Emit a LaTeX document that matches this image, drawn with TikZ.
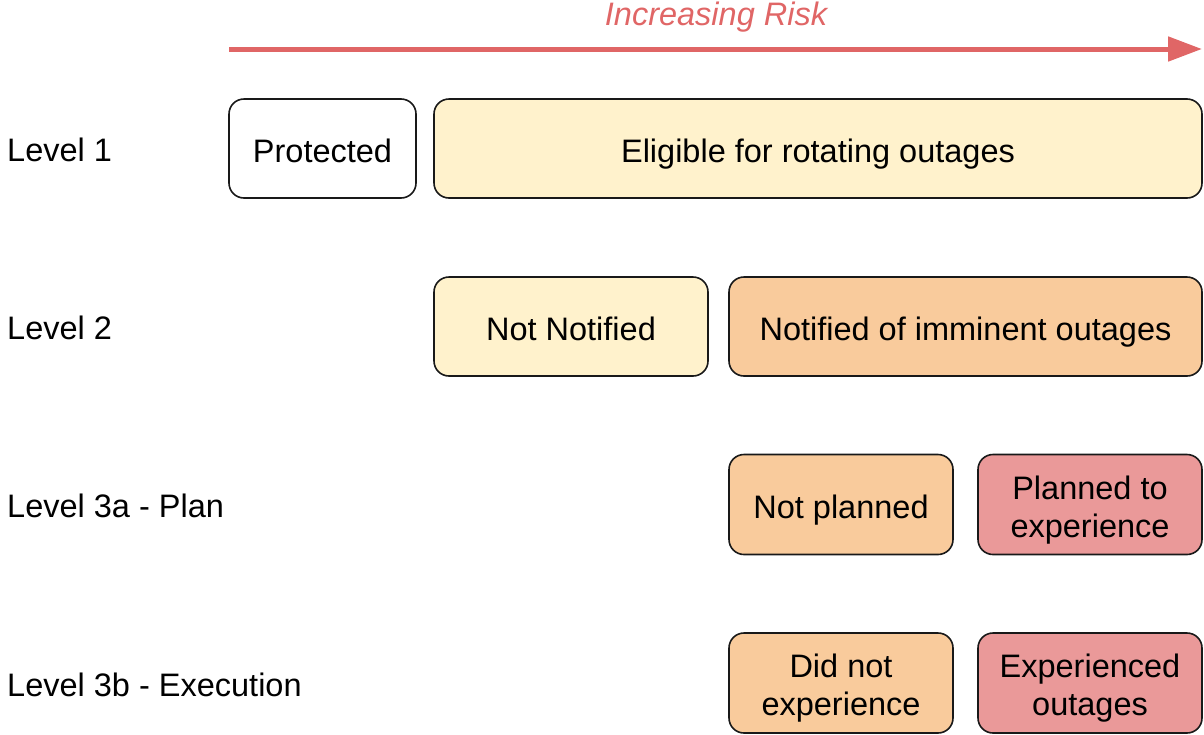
\documentclass[tikz,border=0pt]{standalone}
\usepackage{fontspec}
\setmainfont{Liberation Sans}
\usetikzlibrary{arrows.meta}
\definecolor{cYel}{HTML}{FFF2CC}
\definecolor{cOra}{HTML}{F9CB9C}
\definecolor{cRed}{HTML}{EA9999}
\definecolor{cArr}{HTML}{E06666}
\begin{document}
\begin{tikzpicture}[x=1pt,y=-1pt,
  box/.style={draw=black!90,line width=1.6pt,rounded corners=15pt,inner sep=0pt},
  txt/.style={align=center,inner sep=0pt,yshift=-5.9pt,font=\fontsize{32.5}{38}\selectfont},
  lbl/.style={anchor=west,inner sep=0pt,font=\fontsize{32.5}{38}\selectfont}]
\useasboundingbox (0,0) rectangle (1204,734);
\coordinate (as) at (229,49);
\coordinate (ae) at (1202,49);
\draw[cArr,line width=5pt,-{Triangle[length=34pt,width=24pt]}] (as) -- (ae);
\node[font=\fontsize{32.5}{38}\selectfont\itshape,text=cArr,inner sep=0pt] (risk) at (716,17) {Increasing Risk};
\node[lbl] (l1) at (7,150) {Level 1};
\node[lbl] (l2) at (7,328) {Level 2};
\node[lbl] (l3) at (7,506) {Level 3a - Plan};
\node[lbl] (l4) at (7,685) {Level 3b - Execution};
\node[box,fill=white,minimum width=187pt,minimum height=99pt,label={[txt]center:\strut Protected}] (prot) at (322.5,148.5) {};
\node[box,fill=cYel,minimum width=768pt,minimum height=99pt,label={[txt]center:\strut Eligible for rotating outages}] (elig) at (818,148.5) {};
\node[box,fill=cYel,minimum width=274pt,minimum height=99pt,label={[txt]center:\strut Not Notified}] (notn) at (571,326.5) {};
\node[box,fill=cOra,minimum width=473pt,minimum height=99pt,label={[txt]center:\strut Notified of imminent outages}] (noti) at (965.5,326.5) {};
\node[box,fill=cOra,minimum width=224pt,minimum height=100pt,label={[txt]center:\strut Not planned}] (notp) at (841,504.5) {};
\node[box,fill=cRed,minimum width=224pt,minimum height=100pt,label={[txt]center:\strut Planned to\\\strut experience}] (plan) at (1090,504.5) {};
\node[box,fill=cOra,minimum width=224pt,minimum height=100pt,label={[txt]center:\strut Did not\\\strut experience}] (didn) at (841,683) {};
\node[box,fill=cRed,minimum width=224pt,minimum height=100pt,label={[txt]center:\strut Experienced\\\strut outages}] (expo) at (1090,683) {};
\end{tikzpicture}
\end{document}
